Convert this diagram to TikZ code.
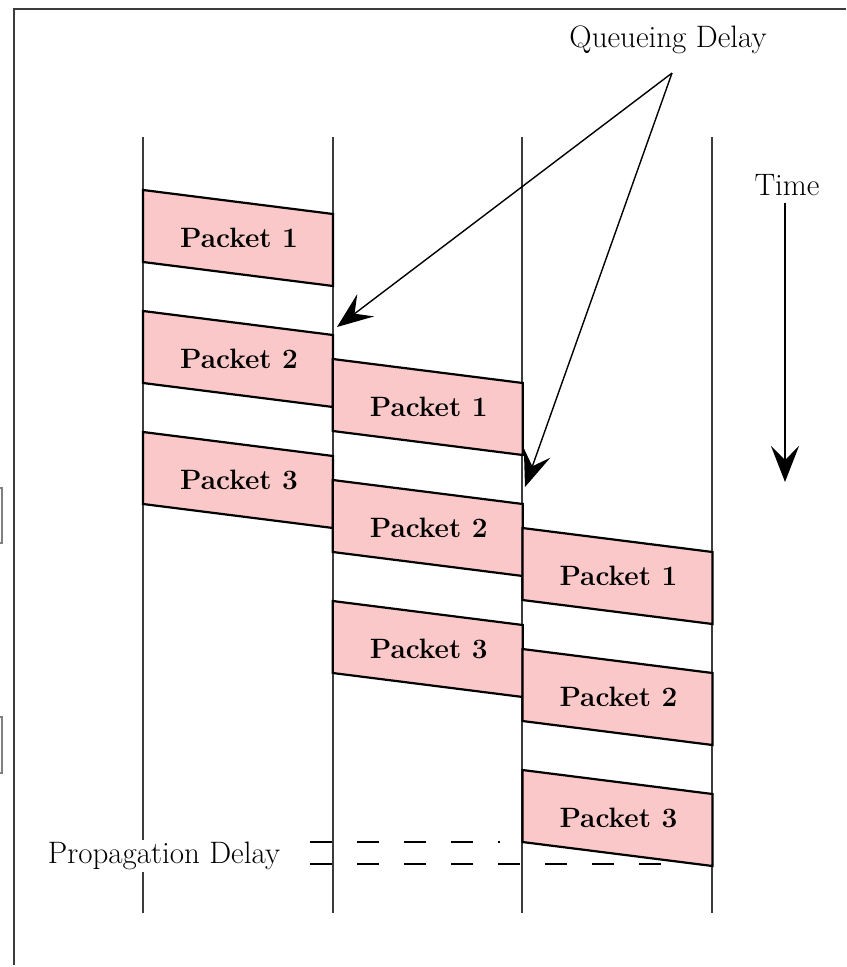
\documentclass[tikz,border=0pt]{standalone}
\usepackage{tikz}
\usetikzlibrary{arrows.meta,positioning}
\definecolor{pktpink}{RGB}{250,200,200}
\definecolor{linegray}{RGB}{60,60,60}

\begin{document}
\begin{tikzpicture}[
    x=0.5pt, y=-0.5pt,
    >={Stealth[length=18pt,width=14pt,inset=7pt]},
    font=\fontsize{15.5}{18}\selectfont,
    packet/.style={
		draw=black,
		line width=1.1pt,
		fill=pktpink
	},
	pktlabel/.style={
		font=\fontsize{14}{16}\selectfont\bfseries
	},
	wire/.style={
		draw=linegray,
		line width=1pt
	},
	pointer/.style={
		draw=black,
		line width=0.7pt,
		->
	},
	delay/.style={
		draw=black,
		line width=1pt,
		dash pattern=on 11pt off 12.5pt
	}
  ]
  \useasboundingbox (0,0) rectangle (846,967);

  % frame and the cut-off marks on the left
  \draw [line width=1.2pt, draw=linegray] (846,9) -- (14,9) -- (14,965);
  \draw [gray, line width=0.8pt] (0,488) -- (2,488) -- (2,543) -- (0,543);
  \draw [gray, line width=0.8pt] (0,717) -- (2,717) -- (2,773) -- (0,773);

  % the four lines
  \foreach \x in {143,333,522,712}
    \draw [wire] (\x,137) -- (\x,913);

  % packets, one column per hop
  \foreach \c in {0,1,2} {
    \foreach \k in {1,2,3} {
      \pgfmathsetmacro{\xl}{143+189.7*\c}
      \pgfmathsetmacro{\yt}{190+169*\c+121*(\k-1)}
      \filldraw [packet] (\xl,\yt) -- ++(190,24) -- ++(0,72) -- ++(-190,-24) -- cycle;
      \node [pktlabel] (p\c\k) at (\xl+96,\yt+48) {Packet \k};
    }
  }

  % queueing delay
  \node (queue) at (668,40) {Queueing Delay};
  \coordinate [below=6pt of queue.south, xshift=2pt] (qtail);
  \coordinate (qtip1) at (337,327);
  \coordinate (qtip2) at (525,487);
  \draw [pointer] (qtail) -- (qtip1);
  \draw [pointer] (qtail) -- (qtip2);

  % time
  \node (time) at (787,185) {Time};
  \coordinate (tend) at (785,482);
  \draw [pointer, line width=1pt] (time.south -| tend) -- (tend);

  % propagation delay
  \draw [delay] (310,842) -- (500,842);
  \draw [delay] (310,864) -- (665,864);
  \node [fill=white, inner sep=1pt] (prop) at (164,856) {Propagation Delay};

\end{tikzpicture}
\end{document}
